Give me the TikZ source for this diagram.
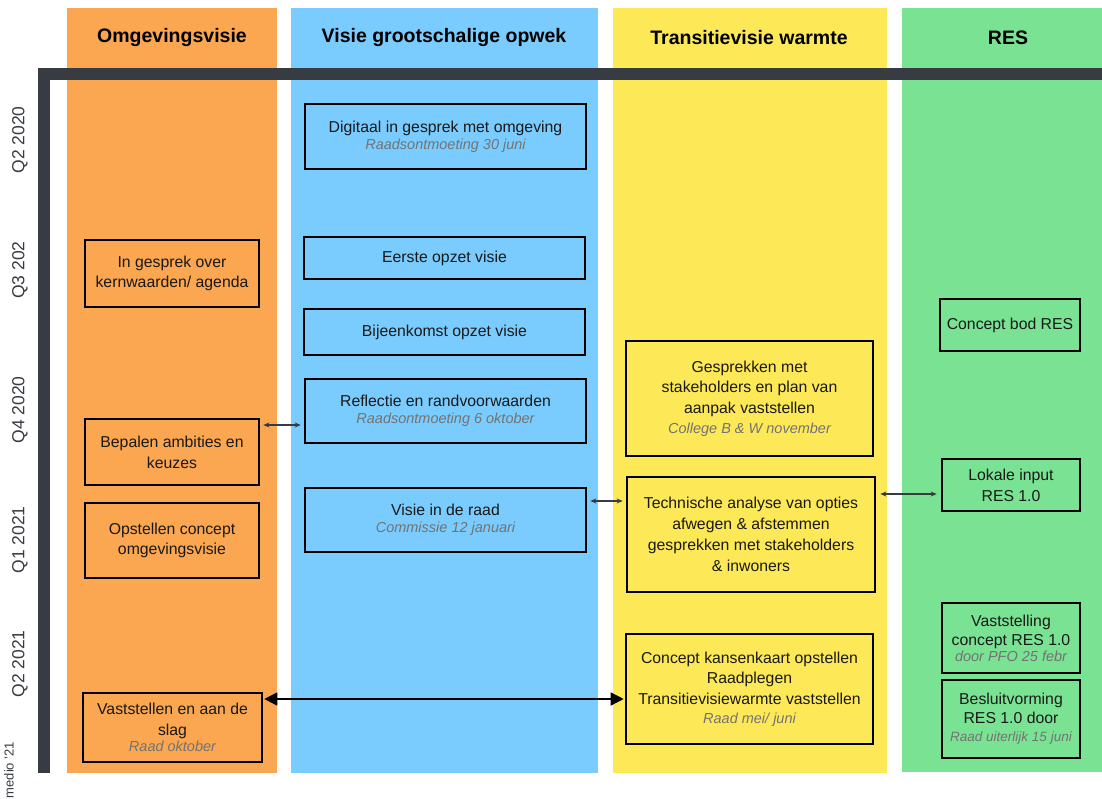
\documentclass[tikz,border=0pt]{standalone}
\usepackage{fontspec}
\setmainfont{Liberation Sans}
\usetikzlibrary{arrows.meta,calc}
\definecolor{cOrange}{RGB}{251,166,80}
\definecolor{cBlue}{RGB}{122,204,254}
\definecolor{cYellow}{RGB}{253,233,88}
\definecolor{cGreen}{RGB}{122,227,147}
\definecolor{cBar}{RGB}{55,60,67}
\definecolor{cText}{RGB}{25,25,25}
\tikzset{
  box/.style={draw=black, line width=2.6pt, align=center, inner sep=1pt, text=cText,
    font=\fontsize{15.8}{20.8}\selectfont},
  head/.style={font=\fontsize{19.5}{22}\selectfont\bfseries, text=black},
  qlabel/.style={rotate=90, font=\fontsize{17.5}{20}\selectfont, text=cBar},
  garrow/.style={{Stealth[length=6pt,width=5pt]}-{Stealth[length=6pt,width=5pt]}, draw=cBar, line width=1.3pt},
  barrow/.style={{Triangle[length=13pt,width=13pt]}-{Triangle[length=13pt,width=13pt]}, draw=black, line width=1.5pt},
}
\newcommand{\subt}[1]{{\fontsize{14.5}{18}\selectfont\itshape\color{black!55}#1}}
\begin{document}
\begin{tikzpicture}[x=1pt,y=-1pt]
\clip (0,0) rectangle (1102,799);
\fill[white] (0,0) rectangle (1102,799);
% columns
\fill[cOrange] (67,8) rectangle (277,773);
\fill[cBlue] (291,8) rectangle (598,773);
\fill[cYellow] (613,8) rectangle (887,773);
\fill[cGreen] (902,8) rectangle (1102,772);
% headers
\node[head] (h1) at (172,38) {Omgevingsvisie};
\node[head] (h2) at (444,38) {Visie grootschalige opwek};
\node[head] (h3) at (749,38) {Transitievisie warmte};
\node[head] (h4) at (1008,38) {RES};
% timeline bar
\fill[cBar] (38,68) rectangle (1102,80);
\fill[cBar] (38,68) rectangle (50,773);
% quarter labels
\node[qlabel] (q1) at (20,140) {Q2 2020};
\node[qlabel] (q2) at (20,270) {Q3 202};
\node[qlabel] (q3) at (20,410) {Q4 2020};
\node[qlabel] (q4) at (20,540) {Q1 2021};
\node[qlabel] (q5) at (20,664) {Q2 2021};
\node[qlabel, font=\fontsize{13}{15}\selectfont] (q6) at (9,770) {medio '21};
% orange boxes
\node[box, minimum width=174pt, minimum height=67pt] (o1) at (172,273.5) {In gesprek over\\kernwaarden/ agenda};
\node[box, minimum width=174pt, minimum height=66pt] (o2) at (172,452) {Bepalen ambities en\\keuzes};
\node[box, minimum width=174pt, minimum height=75pt] (o3) at (172,540.5) {Opstellen concept\\omgevingsvisie};
\node[box, minimum width=179pt, minimum height=69pt] (o4) at (172.5,727.5) {Vaststellen en aan de\\slag\\[-4pt]\subt{Raad oktober}};
% blue boxes
\node[box, minimum width=281pt, minimum height=65pt] (b1) at (445.5,136.5) {Digitaal in gesprek met omgeving\\[-4pt]\subt{Raadsontmoeting 30 juni}};
\node[box, minimum width=281pt, minimum height=42pt] (b2) at (444.5,258) {Eerste opzet visie};
\node[box, minimum width=281pt, minimum height=46pt] (b3) at (444.5,332) {Bijeenkomst opzet visie};
\node[box, minimum width=281pt, minimum height=64pt] (b4) at (445.5,411) {Reflectie en randvoorwaarden\\[-4pt]\subt{Raadsontmoeting 6 oktober}};
\node[box, minimum width=281pt, minimum height=64pt] (b5) at (445.5,520) {Visie in de raad\\[-4pt]\subt{Commissie 12 januari}};
% yellow boxes
\node[box, minimum width=247pt, minimum height=115pt] (y1) at (749.5,398.5) {Gesprekken met\\stakeholders en plan van\\aanpak vaststellen\\[-1pt]\subt{College B \& W november}};
\node[box, minimum width=248pt, minimum height=115pt] (y2) at (751,534.5) {Technische analyse van opties\\afwegen \& afstemmen\\gesprekken met stakeholders\\\& inwoners};
\node[box, minimum width=247pt, minimum height=110pt] (y3) at (749.5,689) {Concept kansenkaart opstellen\\Raadplegen\\Transitievisiewarmte vaststellen\\[-2pt]\subt{Raad mei/ juni}};
% green boxes
\node[box, minimum width=140pt, minimum height=52pt] (g1) at (1010,325) {Concept bod RES};
\node[box, minimum width=138pt, minimum height=52pt] (g2) at (1011,485) {Lokale input\\RES 1.0};
\node[box, minimum width=138pt, minimum height=70pt, font=\fontsize{15.8}{19}\selectfont] (g3) at (1011,638) {Vaststelling\\concept RES 1.0\\[-3pt]\subt{door PFO 25 febr}};
\node[box, minimum width=138pt, minimum height=78pt, font=\fontsize{15.8}{19}\selectfont] (g4) at (1011,719) {Besluitvorming\\RES 1.0 door\\[-1pt]{\fontsize{13.5}{18}\selectfont\itshape\color{black!55}Raad uiterlijk 15 juni}};
% connectors
\draw[garrow, shorten <=3pt, shorten >=3pt] (o2.east |- 0,425) -- (b4.west |- 0,425);
\draw[garrow, shorten <=3pt, shorten >=3pt] (b5.east |- 0,501) -- (y2.west |- 0,501);
\draw[garrow, shorten <=4pt, shorten >=4pt] (y2.east |- 0,494) -- (g2.west |- 0,494);
\draw[barrow, shorten <=1pt, shorten >=1pt] (o4.east |- 0,699) -- (y3.west |- 0,699);
\end{tikzpicture}
\end{document}
